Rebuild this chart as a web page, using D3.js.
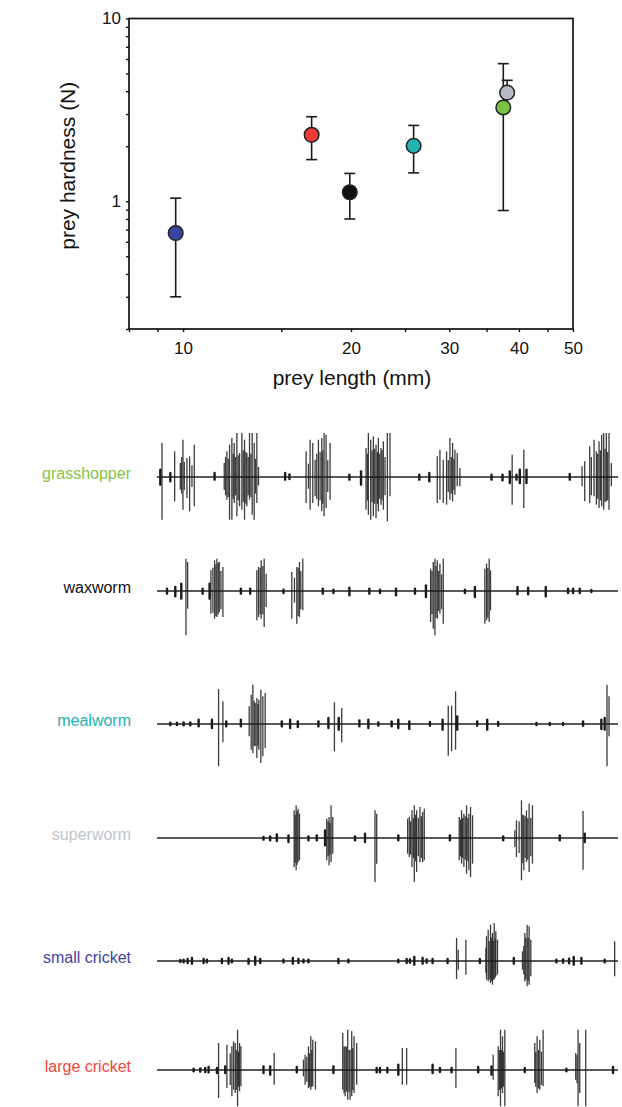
<!DOCTYPE html>
<html>
<head>
<meta charset="utf-8">
<script src="https://cdn.jsdelivr.net/npm/d3@7"></script>
<style>
  body { margin: 0; background: #fff; }
  svg { display: block; font-family: "Liberation Sans", Arial, sans-serif; }
</style>
</head>
<body>
<script>
// ---- datos del grafico de dispersion ----
const prey = ["small cricket", "large cricket", "waxworm", "mealworm", "superworm", "grasshopper"];
const preyLength = [9.7, 17.0, 19.9, 25.9, 38.1, 37.5];      // mm
const hardness = [0.67, 2.31, 1.12, 2.01, 3.93, 3.26];        // N
const hardLow = [0.30, 1.69, 0.80, 1.43, 3.40, 0.89];
const hardHigh = [1.04, 2.90, 1.42, 2.60, 4.59, 5.66];
const pointColors = ["#3b44a0", "#ee3b33", "#111111", "#22b3b3", "#b9bcc6", "#78c143"];
const xTicksMajor = [10, 20, 30, 40, 50];
const xTicksMinor = [8, 9, 15, 25, 35, 45];
const yTicksMajor = [1, 10];
const yTicksMinor = [0.2, 0.3, 0.4, 0.5, 0.6, 0.7, 0.8, 0.9, 2, 3, 4, 5, 6, 7, 8, 9];

// ---- registros EMG: [tiempo, amplitud arriba, amplitud abajo] ----
const traceNames = ["grasshopper", "waxworm", "mealworm", "superworm", "small cricket", "large cricket"];
const traceColors = ["#84c444", "#111111", "#1fb0ae", "#c2c4cc", "#40449a", "#f0473c"];

const grasshopper = [
  [30,22,23],[35,102,128],[60,12,13],[73,77,73],[90,42,38],[94,60,50],[98,112,98],[102,45,40],[110,57,63],[118,62,103],[125,35,30],[132,97,88],
  [193,12,8],
  [222,42,38],[226,60,55],[230,77,68],[234,55,60],[238,97,128],[245,117,128],[249,70,65],[252,102,78],[256,60,55],[260,132,118],[264,65,70],[268,72,88],[275,132,98],[279,80,75],[283,112,128],[287,75,80],[290,72,88],[294,60,55],[298,132,68],[302,70,60],[306,132,113],[312,102,128],[316,55,50],[320,132,78],[325,30,25],
  [405,12,8],[418,8,6],
  [468,77,78],[475,40,35],[480,112,98],[488,102,78],[495,52,58],[500,70,65],[505,112,88],[510,75,70],[515,117,103],[518,80,80],[522,132,118],[528,127,93],[533,50,45],[540,102,68],
  [598,7,8],
  [633,17,23],[648,87,98],[652,70,70],[655,132,113],[662,112,128],[666,80,75],[670,122,118],[674,85,80],[678,97,123],[682,75,80],[685,117,103],[689,70,65],[693,87,83],[696,80,70],[700,107,98],[705,60,55],[712,132,133],[720,132,58],
  [808,7,8],[838,12,13],
  [862,62,78],[870,82,68],[880,52,78],[890,77,83],[895,50,45],[900,117,68],[904,60,50],[908,102,73],[912,55,40],[915,82,53],[922,72,28],[930,27,28],
  [1025,7,8],[1058,7,10],[1080,17,18],[1087,67,83],[1100,7,8],[1110,22,18],[1122,82,93],[1130,22,18],
  [1260,9,8],
  [1297,32,28],[1305,47,73],[1320,92,78],[1325,60,55],[1333,112,58],[1340,77,83],[1344,70,65],[1348,107,93],[1352,80,70],[1356,127,88],[1362,132,98],[1366,85,75],[1370,132,73],[1374,75,70],[1378,132,98],[1385,42,28]
];

const waxworm = [
  [50,7,8],[75,12,16],[93,22,23],[107,97,133],[112,87,53],
  [157,7,8],[178,22,23],[182,62,68],[188,70,65],[193,92,83],[197,80,75],[200,97,78],[204,85,70],[207,87,63],[212,60,55],[218,72,78],
  [272,7,8],[300,7,8],
  [320,62,88],[325,72,78],[330,70,70],[333,92,83],[338,75,70],[342,97,108],[348,52,48],
  [400,4,6],[425,57,83],[433,40,35],[440,72,98],[444,70,75],[448,87,78],[452,60,55],[458,97,58],
  [518,7,8],[550,4,6],[598,10,13],[658,7,8],[690,4,6],[738,7,13],[795,7,8],[828,17,18],
  [842,67,93],[846,60,70],[850,87,113],[855,97,133],[858,75,80],[862,92,83],[866,60,60],[870,82,68],[875,50,55],[880,97,98],
  [945,4,6],[975,12,18],
  [1005,67,98],[1010,82,88],[1014,70,80],[1018,97,93],[1022,62,58],
  [1103,12,10],[1135,10,10],[1188,12,16],[1255,7,6],[1270,7,6],[1290,7,6],[1325,3,3]
];

const mealworm = [
  [60,4,3],[80,4,3],[100,5,4],[120,5,4],[145,13,7],[185,13,12],[205,105,127],[218,68,55],[228,8,7],[272,13,7],
  [297,53,37],[303,88,77],[308,118,87],[312,70,65],[315,63,67],[320,78,102],[323,60,65],[326,73,77],[332,103,117],[338,83,97],[345,93,72],
  [395,8,7],[420,13,12],[443,8,9],[505,8,7],[535,18,12],[553,65,82],[566,18,17],[575,48,55],
  [628,11,7],[655,13,12],[685,5,5],[725,8,7],[745,13,12],[778,8,15],[840,6,5],[878,13,17],
  [895,55,95],[905,55,82],[917,98,77],[922,23,17],
  [982,8,5],[1012,13,17],[1045,6,5],[1160,3,3],[1200,3,3],[1240,3,3],[1300,8,5],
  [1355,13,15],[1365,18,17],[1372,118,127],[1378,83,37]
];

const superworm = [
  [340,3,5],[360,5,7],[380,11,9],[415,8,12],
  [432,83,87],[435,70,75],[438,98,97],[441,80,80],[444,88,72],[448,73,67],
  [475,5,7],[500,8,7],
  [525,23,22],[530,58,67],[534,50,55],[537,63,82],[540,45,50],[543,98,72],[548,63,47],
  [615,5,7],[645,13,12],[675,83,132],[680,73,77],[745,8,7],
  [773,58,47],[778,63,57],[782,50,50],[786,83,87],[790,60,60],[793,98,132],[797,70,70],[800,83,102],[805,60,55],[810,93,72],[814,65,60],[818,78,72],[823,88,67],
  [900,8,7],
  [928,63,67],[932,55,55],[935,83,77],[938,60,60],[942,73,87],[946,65,65],[950,98,107],[954,60,70],[957,73,97],[962,93,117],[968,68,77],
  [1060,5,7],
  [1095,23,27],[1100,53,57],[1108,50,45],[1115,113,127],[1119,70,75],[1122,68,97],[1126,65,60],[1130,83,72],[1134,60,65],[1138,103,102],[1143,60,55],[1148,98,77],
  [1230,8,7],[1300,81,95],[1305,13,12]
];

const smallCricket = [
  [90,3,3],[100,4,4],[112,6,6],[125,9,8],[160,6,6],[170,4,4],[215,6,6],[235,9,8],[245,4,4],
  [295,6,8],[315,12,11],[330,6,6],[400,4,4],[428,9,8],[445,6,6],[460,4,4],[475,4,4],
  [565,6,6],[595,4,4],[745,4,4],[770,6,6],[780,5,5],[793,12,11],[818,9,8],[830,5,5],[848,6,6],[893,6,6],
  [920,69,54],[925,34,26],[948,64,41],[990,6,6],
  [1008,40,35],[1010,74,56],[1015,94,61],[1018,60,55],[1022,109,66],[1025,70,60],[1028,84,71],[1030,60,55],[1033,114,56],[1036,65,50],[1038,89,46],[1043,64,41],
  [1092,9,8],
  [1118,29,26],[1122,45,40],[1125,84,61],[1128,70,55],[1132,109,76],[1135,70,60],[1138,104,71],[1143,64,46],
  [1220,4,4],[1240,5,5],[1258,7,7],[1272,12,11],[1295,9,8],[1365,4,4],[1395,59,46]
];

const largeCricket = [
  [130,4,4],[150,5,5],[165,6,6],[175,9,7],[200,6,9],[205,81,84],[225,11,9],
  [230,76,54],[240,50,45],[245,71,79],[250,86,59],[255,81,69],[258,60,60],[262,121,109],[265,55,50],[268,81,64],[272,71,49],
  [340,11,9],[360,11,14],[372,51,44],[440,9,7],
  [460,31,19],[465,46,44],[470,40,35],[475,71,54],[478,50,50],[482,101,59],[485,60,50],[488,91,49],[496,86,59],
  [550,11,9],
  [578,111,59],[582,70,70],[585,71,79],[589,70,65],[593,121,89],[597,60,65],[600,61,89],[605,116,79],[608,65,60],[612,101,69],[620,81,44],
  [680,6,7],[690,6,7],[712,6,7],[745,16,14],[757,66,44],[770,66,44],[848,16,9],[870,6,6],[905,6,7],[918,66,54],[985,9,7],
  [1025,11,14],[1030,46,29],[1045,71,79],[1049,60,60],[1052,121,109],[1055,60,55],[1058,101,69],[1061,55,50],[1065,121,109],
  [1125,6,6],
  [1155,81,39],[1158,55,50],[1162,101,69],[1166,60,55],[1170,91,59],[1175,55,45],[1180,121,49],
  [1250,4,4],[1278,51,29],[1282,45,40],[1285,121,109],[1290,81,69],[1308,121,109],[1390,9,9]
];

const traces = [grasshopper, waxworm, mealworm, superworm, smallCricket, largeCricket];

// ---- dimensiones ----
const W = 622, H = 1107;
const plot = {left: 129, right: 573, top: 18.5, bottom: 329};
const traceRowY = [477, 591, 724, 838, 961, 1070]; // linea base de cada registro

const svg = d3.select("body").append("svg")
  .attr("width", W)
  .attr("height", H);

// Escalas logaritmicas
const x = d3.scaleLog().domain([8, 50]).range([plot.left, plot.right]);
const y = d3.scaleLog().domain([0.2, 10]).range([plot.bottom, plot.top]);

// Marco
svg.append("rect")
  .attr("x", plot.left).attr("y", plot.top)
  .attr("width", plot.right - plot.left).attr("height", plot.bottom - plot.top)
  .attr("fill", "none").attr("stroke", "#111").attr("stroke-width", 1.7);

// Eje X
const gx = svg.append("g").attr("transform", `translate(0,${plot.bottom})`);
gx.call(d3.axisBottom(x).tickValues(xTicksMajor).tickFormat(d3.format("d")).tickSize(3).tickPadding(7));
gx.append("g").call(d3.axisBottom(x).tickValues(xTicksMinor).tickFormat("").tickSize(3));
gx.selectAll(".domain").remove();
gx.selectAll("line").attr("stroke", "#111").attr("stroke-width", 1.4);
gx.selectAll("text").attr("fill", "#111").style("font-size", "17px").attr("dy", "0.9em");

// Eje Y
const gy = svg.append("g").attr("transform", `translate(${plot.left},0)`);
gy.call(d3.axisLeft(y).tickValues(yTicksMajor).tickFormat(d3.format("d")).tickSize(3).tickPadding(5));
gy.append("g").call(d3.axisLeft(y).tickValues(yTicksMinor).tickFormat("").tickSize(3));
gy.selectAll(".domain").remove();
gy.selectAll("line").attr("stroke", "#111").attr("stroke-width", 1.4);
gy.selectAll("text").attr("fill", "#111").style("font-size", "17px");

// Titulos de ejes
svg.append("text")
  .attr("x", (plot.left + plot.right) / 2 + 1).attr("y", 385)
  .attr("text-anchor", "middle").style("font-size", "21px").attr("fill", "#111")
  .text("prey length (mm)");
svg.append("text")
  .attr("transform", `translate(75,${(plot.top + plot.bottom) / 2 - 8}) rotate(-90)`)
  .attr("text-anchor", "middle").style("font-size", "21px").attr("fill", "#111")
  .text("prey hardness (N)");

// Barras de error
const idx = d3.range(prey.length);
const cap = 5.5;
const eb = svg.append("g").attr("stroke", "#1a1a1a").attr("stroke-width", 1.6);
eb.selectAll(".v").data(idx).join("line")
  .attr("x1", i => x(preyLength[i])).attr("x2", i => x(preyLength[i]))
  .attr("y1", i => y(hardLow[i])).attr("y2", i => y(hardHigh[i]));
eb.selectAll(".hi").data(idx).join("line")
  .attr("x1", i => x(preyLength[i]) - cap).attr("x2", i => x(preyLength[i]) + cap)
  .attr("y1", i => y(hardHigh[i])).attr("y2", i => y(hardHigh[i]));
eb.selectAll(".lo").data(idx.filter(i => prey[i] !== "superworm")).join("line")
  .attr("x1", i => x(preyLength[i]) - cap).attr("x2", i => x(preyLength[i]) + cap)
  .attr("y1", i => y(hardLow[i])).attr("y2", i => y(hardLow[i]));

// Puntos
svg.append("g").selectAll("circle").data(idx).join("circle")
  .attr("cx", i => x(preyLength[i]))
  .attr("cy", i => y(hardness[i]))
  .attr("r", 7.3)
  .attr("fill", i => pointColors[i])
  .attr("stroke", "#222").attr("stroke-width", 1.5);

// ---- registros ----
const tx = d3.scaleLinear().domain([20, 1405]).range([157, 618]);
const amp = d3.scaleLinear().domain([-135, 135]).range([45, -45]);

traces.forEach((spikes, k) => {
  const g = svg.append("g").attr("transform", `translate(0,${traceRowY[k]})`);

  g.append("text")
    .attr("x", 131).attr("y", -2)
    .attr("text-anchor", "end").attr("dominant-baseline", "middle")
    .style("font-size", "16px").attr("fill", traceColors[k])
    .text(traceNames[k]);

  g.append("line")
    .attr("x1", tx.range()[0]).attr("x2", tx.range()[1])
    .attr("y1", 0).attr("y2", 0)
    .attr("stroke", "#222").attr("stroke-width", 1.4);

  g.selectAll(".spike").data(spikes).join("line")
    .attr("class", "spike")
    .attr("x1", d => tx(d[0])).attr("x2", d => tx(d[0]))
    .attr("y1", d => amp(d[1])).attr("y2", d => amp(-d[2]))
    .attr("stroke", "#1a1a1a")
    .attr("stroke-linecap", d => Math.max(d[1], d[2]) < 25 ? "round" : "butt")
    .attr("stroke-opacity", d => Math.max(d[1], d[2]) < 25 ? 1 : 0.85)
    .attr("stroke-width", d => Math.max(d[1], d[2]) < 25 ? 2.4 : 1.3);
});
</script>
</body>
</html>
